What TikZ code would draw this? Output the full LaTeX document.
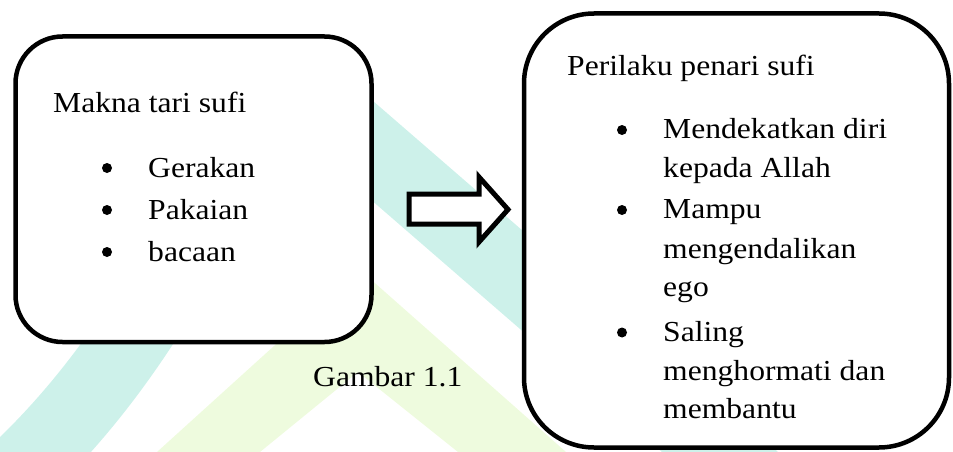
\documentclass[tikz,border=0pt]{standalone}
\usepackage{fontspec}
\setmainfont{Liberation Serif}[FakeStretch=1.09]
\definecolor{bandteal}{RGB}{205,241,234}
\definecolor{bandgreen}{RGB}{238,251,222}
\tikzset{
  box/.style={draw, line width=4.5pt, fill=white, rounded corners=#1, inner sep=0pt},
  txt/.style={anchor=base west, inner sep=0pt, font=\fontsize{29}{35}\selectfont},
  dot/.style={circle, fill=black, inner sep=0pt, minimum size=10pt},
  blockarrow/.style={draw, line width=5pt, fill=white, line join=miter, miter limit=10}
}
\begin{document}
\begin{tikzpicture}[x=1pt, y=-1pt]
\useasboundingbox (0,0) rectangle (953,452);

% watermark bands in the background
\begin{scope}
  \clip (0,0) rectangle (953,452);
  \draw[bandteal, line width=76pt]
    (12,478) .. controls (222,285) and (240,36) .. (330,114) -- (780,504);
  \fill[bandgreen] (157,452) -- (359,269) -- (566,452) -- (458,452)
    -- (358,372) -- (260,452) -- cycle;
\end{scope}

% the two boxes
\node[box=47pt, minimum width=356pt, minimum height=305.5pt] (lbox) at (193.5,189.25) {};
\node[box=70pt, minimum width=425pt, minimum height=434pt] (rbox) at (736.5,230.5) {};

% left box contents
\node[txt] (ltitle) at (53,112) {Makna tari sufi};
\node[dot] (ld1) at (107,168) {};
\node[txt] (li1) at (148,177) {Gerakan};
\node[dot] (ld2) at (107,210) {};
\node[txt] (li2) at (148,219) {Pakaian};
\node[dot] (ld3) at (107,252) {};
\node[txt] (li3) at (148,261) {bacaan};

% right box contents
\node[txt] (rtitle) at (567,75) {Perilaku penari sufi};
\node[dot] (rd1) at (622,130) {};
\node[txt] (ri1a) at (663,138.5) {Mendekatkan diri};
\node[txt] (ri1b) at (663,177) {kepada Allah};
\node[dot] (rd2) at (622,210) {};
\node[txt] (ri2a) at (663,218.5) {Mampu};
\node[txt] (ri2b) at (663,258) {mengendalikan};
\node[txt] (ri2c) at (663,296.5) {ego};
\node[dot] (rd3) at (622,332.5) {};
\node[txt] (ri3a) at (663,341.5) {Saling};
\node[txt] (ri3b) at (663,380) {menghormati dan};
\node[txt] (ri3c) at (663,418.5) {membantu};

% caption
\node[txt] (cap) at (313,386.5) {Gambar 1.1};

% block arrow between the boxes
\draw[blockarrow] (409,194) -- (479,194) -- (479,177) -- (508,209.5)
  -- (479,242) -- (479,224) -- (409,224) -- cycle;
\end{tikzpicture}
\end{document}
